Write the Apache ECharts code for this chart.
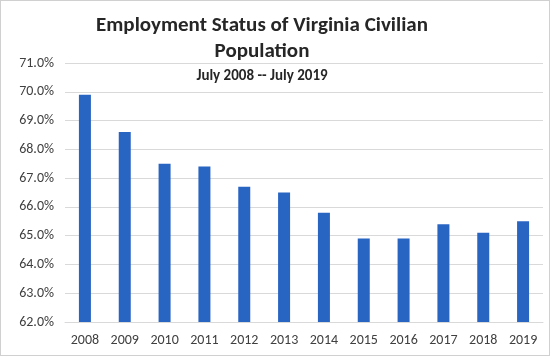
<!DOCTYPE html>
<html>
<head>
<meta charset="utf-8">
<script src="https://cdn.jsdelivr.net/npm/echarts@6/dist/echarts.min.js"></script>
<style>
html,body{margin:0;padding:0;background:#fff;}
#c{width:548px;height:354px;border:1px solid #d0d0d0;}
</style>
</head>
<body>
<div id="c"></div>
<script>
const categories = ['2008','2009','2010','2011','2012','2013','2014','2015','2016','2017','2018','2019'];
const values = [69.9, 68.6, 67.5, 67.4, 66.7, 66.5, 65.8, 64.9, 64.9, 65.4, 65.1, 65.5];
const titleText = 'Employment Status of Virginia Civilian\nPopulation';
const subtitleText = 'July 2008 -- July 2019';
const yMin = 62, yMax = 71, yStep = 1;

const font = 'Carlito, Lato, "Open Sans", sans-serif';
const chart = echarts.init(document.getElementById('c'));
chart.setOption({
  animation: false,
  title: [
    {text: titleText, left: 261, top: 12, padding: 0, textAlign: 'center',
     textStyle: {fontFamily: font, fontSize: 21, fontWeight: 'bold', color: '#262626', lineHeight: 26}},
    {text: subtitleText, left: 261, top: 68, padding: 0, textAlign: 'center',
     textStyle: {fontFamily: font, fontSize: 15, fontWeight: 'bold', color: '#262626'}}
  ],
  grid: {left: 64, right: 6, top: 62, bottom: 33, containLabel: false},
  xAxis: {
    type: 'category', data: categories,
    axisLine: {show: true, lineStyle: {color: '#d9d9d9'}},
    axisTick: {show: false},
    axisLabel: {fontFamily: font, fontSize: 14, color: '#404040', margin: 11}
  },
  yAxis: {
    type: 'value', min: yMin, max: yMax, interval: yStep,
    axisLine: {show: false}, axisTick: {show: false},
    splitLine: {lineStyle: {color: '#d9d9d9'}},
    axisLabel: {fontFamily: font, fontSize: 14, color: '#404040', margin: 11,
      formatter: v => v.toFixed(1) + '%'}
  },
  series: [{
    type: 'bar', data: values, barWidth: 12,
    itemStyle: {color: '#2864C2'}
  }]
});
</script>
</body>
</html>
